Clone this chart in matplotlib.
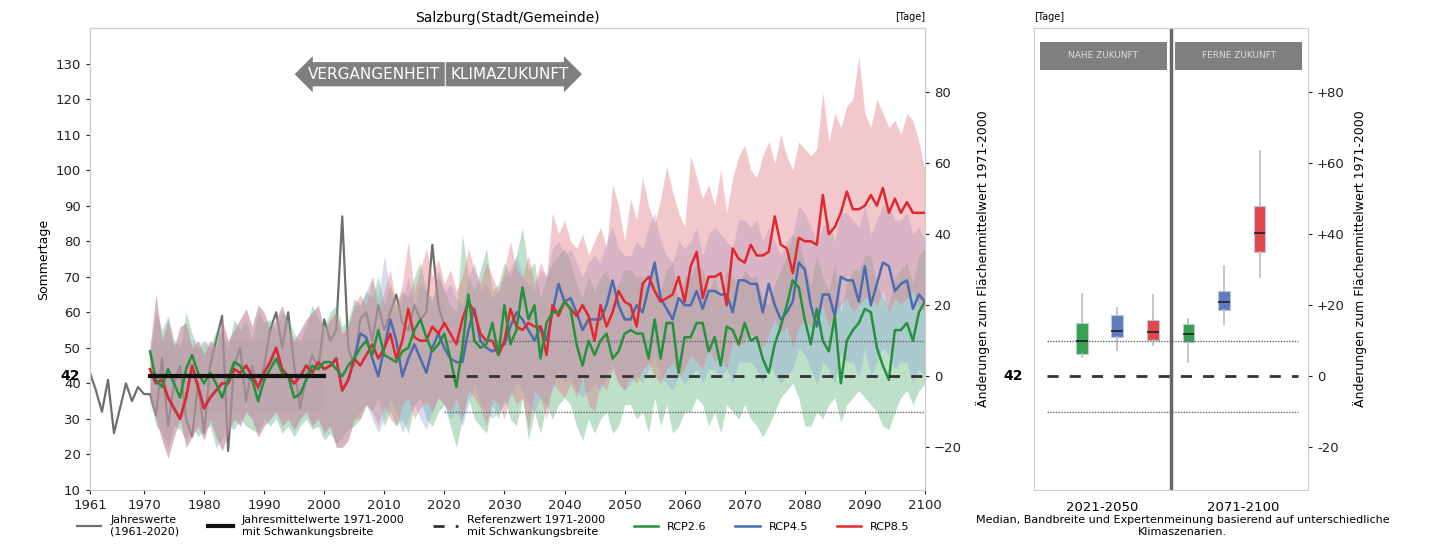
import matplotlib
matplotlib.use("Agg")
import matplotlib.pyplot as plt
import numpy as np

REF = 42

obs_years = list(range(1961, 2021))
obs = [43, 38, 32, 41, 26, 33, 40, 35, 39, 37,
       37, 31, 47, 28, 40, 45, 30, 25, 40, 26,
       45, 52, 59, 21, 45, 50, 35, 45, 38, 45,
       55, 60, 50, 60, 45, 33, 42, 48, 44, 58,
       52, 55, 87, 50, 45, 58, 60, 52, 62, 55,
       60, 65, 57, 55, 62, 58, 60, 79, 62, 56]

years = list(range(1971, 2101))

# historische Laeufe (1971-2005), gleich fuer RCP4.5 und RCP8.5
hist_45_85 = [44, 40, 41, 36, 33, 30, 36, 45, 39, 33,
              36, 38, 40, 40, 44, 43, 45, 42, 39, 43,
              46, 50, 44, 42, 40, 42, 45, 43, 46, 44,
              45, 47, 38, 41, 47]
hist_up_45_85 = [50, 65, 52, 58, 50, 56, 57, 50, 52, 48,
                 52, 50, 58, 52, 55, 58, 61, 56, 62, 60,
                 55, 58, 62, 56, 52, 55, 58, 60, 62, 55,
                 58, 60, 54, 56, 62]
hist_lo_45_85 = [35, 30, 24, 19, 25, 30, 22, 25, 28, 24,
                 30, 25, 21, 26, 30, 28, 32, 30, 25, 28,
                 30, 32, 28, 30, 27, 30, 32, 28, 30, 26,
                 28, 22, 22, 24, 30]

rcp85 = hist_45_85 + [
    45, 48, 51, 47, 50,
    54, 47, 52, 61, 53, 52, 52, 56, 54, 57,
    54, 51, 58, 63, 60, 54, 52, 52, 48, 52,
    61, 56, 55, 57, 56, 56, 48, 62, 59, 63,
    61, 59, 62, 59, 52, 62, 56, 60, 66, 63,
    62, 56, 68, 70, 66, 63, 64, 65, 70, 63,
    73, 77, 64, 70, 70, 71, 62, 78, 75, 74,
    79, 76, 76, 77, 87, 79, 78, 71, 81, 80,
    80, 79, 93, 82, 84, 88, 94, 89, 89, 90,
    93, 90, 95, 88, 92, 88, 91, 88, 88, 88]
rcp85_up = hist_up_45_85 + [
    65, 62, 70, 60, 66,
    72, 62, 68, 80, 66, 72, 78, 70, 75, 68,
    72, 66, 70, 78, 72, 68, 74, 70, 66, 72,
    80, 72, 70, 76, 68, 74, 70, 88, 82, 86,
    80, 78, 82, 76, 80, 84, 78, 96, 90, 80,
    92, 86, 98, 90, 85, 92, 101, 94, 88, 84,
    104, 98, 92, 96, 90, 100, 88, 98, 104, 107,
    100, 98, 104, 108, 102, 110, 104, 100, 108, 106,
    104, 106, 122, 108, 116, 112, 118, 120, 132, 116,
    112, 120, 116, 112, 114, 110, 116, 114, 108, 100]
rcp85_lo = hist_lo_45_85 + [
    30, 34, 32, 28, 34,
    30, 28, 34, 36, 30, 33, 35, 32, 36, 34,
    32, 36, 30, 38, 36, 33, 28, 36, 34, 30,
    38, 34, 36, 27, 38, 36, 30, 40, 38, 36,
    40, 36, 42, 34, 32, 40, 38, 44, 40, 38,
    42, 40, 44, 46, 42, 40, 44, 46, 42, 44,
    48, 46, 44, 50, 46, 48, 44, 52, 50, 52,
    54, 52, 50, 54, 58, 54, 56, 50, 56, 58,
    56, 58, 62, 56, 60, 62, 64, 60, 62, 64,
    64, 62, 66, 60, 64, 62, 64, 66, 62, 60]

rcp45 = hist_45_85 + [
    54, 53, 47, 42, 50,
    58, 52, 42, 47, 51, 47, 43, 50, 54, 50,
    47, 46, 46, 55, 61, 52, 50, 49, 50, 51,
    56, 60, 58, 55, 52, 56, 52, 60, 68, 63,
    64, 60, 55, 58, 58, 58, 62, 69, 62, 58,
    58, 62, 60, 67, 74, 64, 61, 58, 64, 62,
    62, 66, 61, 66, 66, 65, 65, 60, 69, 69,
    68, 68, 60, 68, 62, 58, 60, 63, 74, 72,
    62, 56, 65, 65, 59, 70, 69, 69, 63, 73,
    62, 68, 74, 73, 66, 68, 69, 61, 65, 63]
rcp45_up = hist_up_45_85 + [
    62, 66, 70, 64, 76,
    66, 60, 64, 70, 62, 68, 66, 62, 72, 66,
    68, 64, 62, 70, 74, 66, 68, 64, 66, 70,
    72, 76, 70, 68, 66, 72, 70, 78, 80, 76,
    78, 74, 70, 74, 76, 74, 80, 84, 78, 76,
    76, 80, 78, 84, 88, 80, 76, 74, 80, 78,
    80, 84, 76, 82, 84, 82, 80, 78, 86, 86,
    84, 86, 80, 84, 80, 76, 80, 82, 90, 88,
    84, 80, 84, 86, 80, 88, 88, 86, 84, 90,
    82, 86, 90, 90, 86, 86, 88, 82, 84, 80]
rcp45_lo = hist_lo_45_85 + [
    32, 34, 30, 26, 30,
    36, 32, 26, 30, 34, 30, 27, 32, 36, 34,
    30, 32, 28, 34, 40, 34, 32, 30, 32, 34,
    36, 40, 38, 34, 32, 36, 34, 38, 44, 40,
    42, 38, 36, 38, 40, 38, 42, 46, 40, 38,
    40, 42, 40, 44, 48, 42, 40, 38, 42, 40,
    42, 44, 40, 44, 44, 42, 44, 40, 46, 46,
    46, 44, 40, 46, 42, 40, 42, 44, 50, 48,
    44, 40, 46, 44, 40, 48, 46, 46, 42, 50,
    42, 46, 50, 48, 44, 46, 46, 40, 44, 42]

rcp26 = [49, 41, 39, 44, 40, 36, 44, 48, 43, 40,
         43, 40, 36, 41, 46, 45, 42, 41, 35, 41,
         44, 47, 43, 42, 36, 37, 41, 45, 44, 46,
         46, 44, 42, 45, 47, 50, 52, 48, 55, 48,
         47, 46, 49, 50, 55, 58, 53, 49, 51, 54,
         47, 39, 50, 65, 52, 50, 51, 57, 48, 62,
         51, 55, 67, 58, 62, 47, 57, 60, 60, 63,
         61, 51, 45, 52, 48, 52, 54, 47, 49, 54,
         55, 54, 54, 47, 58, 47, 57, 57, 43, 53,
         53, 57, 57, 49, 53, 45, 56, 55, 51, 57,
         52, 53, 47, 43, 51, 56, 62, 69, 67, 58,
         51, 61, 52, 49, 59, 40, 52, 55, 57, 61,
         60, 50, 45, 41, 55, 55, 57, 52, 60, 63]
rcp26_up = [48, 60, 55, 59, 52, 50, 60, 54, 50, 52,
            50, 55, 54, 50, 58, 55, 58, 52, 60, 57,
            58, 55, 60, 58, 54, 52, 56, 62, 58, 56,
            60, 62, 56, 58, 64, 62, 66, 64, 70, 62,
            68, 62, 66, 64, 70, 74, 66, 64, 70, 66,
            62, 60, 82, 70, 66, 72, 78, 66, 68, 74,
            70, 76, 84, 72, 74, 64, 70, 74, 76, 78,
            74, 68, 64, 70, 66, 70, 72, 66, 68, 72,
            72, 70, 70, 66, 74, 66, 72, 74, 62, 70,
            70, 74, 72, 66, 70, 64, 72, 70, 68, 72,
            70, 70, 64, 62, 68, 72, 76, 82, 80, 74,
            68, 76, 70, 66, 74, 60, 68, 72, 72, 76,
            76, 68, 64, 62, 70, 72, 74, 68, 76, 78]
rcp26_lo = [36, 28, 26, 22, 28, 27, 24, 28, 25, 27,
            28, 22, 24, 28, 27, 30, 28, 27, 26, 30,
            28, 30, 26, 28, 25, 28, 30, 27, 28, 24,
            26, 23, 25, 27, 28, 30, 34, 32, 36, 28,
            32, 28, 30, 26, 34, 36, 30, 28, 32, 34,
            28, 22, 30, 36, 30, 28, 26, 34, 30, 36,
            30, 28, 36, 24, 32, 26, 34, 30, 34, 36,
            34, 28, 24, 30, 26, 30, 32, 26, 28, 34,
            34, 30, 32, 26, 36, 28, 34, 26, 28, 32,
            32, 36, 34, 28, 32, 26, 34, 32, 30, 34,
            30, 28, 25, 28, 32, 36, 38, 40, 36, 28,
            28, 32, 30, 34, 36, 29, 34, 36, 38, 36,
            34, 32, 28, 27, 32, 36, 38, 34, 38, 40]

# Boxplots: Aenderung zum Referenzwert [Tage]
periods = ["2021-2050", "2071-2100"]
box_stats = {
    "RCP2.6": [(5.3, 6.2, 9.9, 15.0, 23.2), (4.0, 9.6, 12.0, 14.6, 16.0)],
    "RCP4.5": [(7.3, 11.1, 12.7, 17.2, 19.2), (14.8, 18.6, 20.9, 24.1, 31.0)],
    "RCP8.5": [(8.7, 10.1, 12.4, 15.7, 23.0), (27.9, 35.0, 40.4, 47.9, 63.4)],
}

c_green = "#24913c"
c_blue = "#4b6cae"
c_red = "#e0282e"
band = {"RCP2.6": "#4fae70", "RCP4.5": "#8ea8d8", "RCP8.5": "#e27d87"}
box_col = {"RCP2.6": "#36a150", "RCP4.5": "#5f7dbd", "RCP8.5": "#e2484b"}

plt.rcParams["font.family"] = "DejaVu Sans"
fig = plt.figure(figsize=(14.3, 5.45), dpi=100)
ax = fig.add_axes([0.0629, 0.1009, 0.5839, 0.8477])

# Schwankungsbreite 1971-2000
ax.fill_between([1971, 2000], REF - 10, REF + 10, color="#d8d8d8", alpha=0.35, lw=0, zorder=1)

ax.plot(obs_years, obs, color="#6e6e6e", lw=1.6, label="Jahreswerte\n(1961-2020)", zorder=2)

ax.fill_between(years, rcp26_lo, rcp26_up, color=band["RCP2.6"], alpha=0.38, lw=0, zorder=3)
ax.fill_between(years, rcp45_lo, rcp45_up, color=band["RCP4.5"], alpha=0.38, lw=0, zorder=3)
ax.fill_between(years, rcp85_lo, rcp85_up, color=band["RCP8.5"], alpha=0.42, lw=0, zorder=3)

ax.plot([1971, 2000], [REF, REF], color="#111111", lw=3, zorder=5,
        label="Jahresmittelwerte 1971-2000\nmit Schwankungsbreite")
ax.plot([2020, 2100], [REF, REF], color="#333333", lw=2, ls=(0, (4, 4)), zorder=5,
        label="Referenzwert 1971-2000\nmit Schwankungsbreite")
for v in (REF - 10, REF + 10):
    ax.plot([2020, 2100], [v, v], color="#666666", lw=1, ls=(0, (1, 1)), zorder=5)

l45, = ax.plot(years, rcp45, color=c_blue, lw=1.8, zorder=4)
l85, = ax.plot(years, rcp85, color=c_red, lw=1.8, zorder=4)
l26, = ax.plot(years, rcp26, color=c_green, lw=1.8, zorder=4)

ax.set_xlim(1961, 2100)
ax.set_ylim(10, 140)
ax.set_xticks([1961] + list(range(1970, 2101, 10)))
ax.set_yticks(range(10, 131, 10))
ax.tick_params(labelsize=9.5, colors="#222222", length=3)
ax.set_ylabel("Sommertage", fontsize=9)
ax.set_title("Salzburg(Stadt/Gemeinde)", fontsize=10, pad=4)
ax.text(1.0, 1.012, "[Tage]", transform=ax.transAxes, ha="right", va="bottom", fontsize=7)
ax.text(-0.012, REF, "42", transform=ax.get_yaxis_transform(), ha="right", va="center",
        fontsize=10, fontweight="bold")
for s in ax.spines.values():
    s.set_color("#cccccc")

ax.text(2019.3, 127, "VERGANGENHEIT", ha="right", va="center", color="white", fontsize=11,
        bbox=dict(boxstyle="larrow,pad=0.3", fc="#7f7f7f", ec="none"))
ax.text(2021.0, 127, "KLIMAZUKUNFT", ha="left", va="center", color="white", fontsize=11,
        bbox=dict(boxstyle="rarrow,pad=0.3", fc="#7f7f7f", ec="none"))

ax2 = ax.twinx()
ax2.set_ylim(10 - REF, 140 - REF)
ax2.set_yticks(range(-20, 81, 20))
ax2.tick_params(labelsize=9.5, colors="#222222", length=3)
ax2.set_ylabel("Änderungen zum Flächenmittelwert 1971-2000", fontsize=9, labelpad=10)
for s in ax2.spines.values():
    s.set_color("#cccccc")

handles, labels = ax.get_legend_handles_labels()
handles += [l26, l45, l85]
labels += ["RCP2.6", "RCP4.5", "RCP8.5"]
fig.legend(handles, labels, loc="center", bbox_to_anchor=(0.345, 0.035), ncol=6,
           frameon=False, fontsize=8, handlelength=2.2, columnspacing=2.6)

# rechter Teil: Boxplots
bx = fig.add_axes([0.7231, 0.1009, 0.1916, 0.8477])
bx.set_xlim(-1.34, 6.36)
bx.set_ylim(10 - REF, 140 - REF)
pos = 0
for i, per in enumerate(periods):
    for name in ["RCP2.6", "RCP4.5", "RCP8.5"]:
        lo, q1, med, q3, hi = box_stats[name][i]
        st = [dict(whislo=lo, q1=q1, med=med, q3=q3, whishi=hi, fliers=[])]
        bx.bxp(st, positions=[pos], widths=0.33, patch_artist=True, showcaps=False,
               boxprops=dict(facecolor=box_col[name], edgecolor="#b8c8e0", lw=0.8),
               medianprops=dict(color="#222222", lw=1.2),
               whiskerprops=dict(color="#bbbbbb", lw=1.2))
        pos += 1

bx.axhline(0, xmin=0.047, xmax=0.963, color="#333333", lw=2, ls=(0, (4, 4)))
for v in (-10, 10):
    bx.axhline(v, xmin=0.047, xmax=0.963, color="#666666", lw=1, ls=(0, (1, 1)))
bx.axvline(2.5, color="#666666", lw=2.5)

for x0, txt in [(0.022, "NAHE ZUKUNFT"), (0.515, "FERNE ZUKUNFT")]:
    bx.add_patch(plt.Rectangle((x0, 0.909), 0.463, 0.061, transform=bx.transAxes,
                               fc="#7f7f7f", ec="none"))
    bx.text(x0 + 0.2315, 0.9395, txt, transform=bx.transAxes, ha="center", va="center",
            color="#dddddd", fontsize=6.5)

bx.set_xticks([0.57, 4.53])
bx.set_xticklabels(periods)
bx.tick_params(axis="x", length=0, labelsize=9.5, pad=8)
bx.yaxis.tick_right()
bx.yaxis.set_label_position("right")
bx.set_yticks(range(-20, 81, 20))
bx.set_yticklabels(["-20", "0", "+20", "+40", "+60", "+80"])
bx.tick_params(axis="y", labelsize=9.5, colors="#222222", length=3)
bx.set_ylabel("Änderungen zum Flächenmittelwert 1971-2000", fontsize=9, labelpad=6)
bx.text(-0.04, 0, "42", transform=bx.get_yaxis_transform(), ha="right", va="center",
        fontsize=10, fontweight="bold")
bx.text(0.0, 1.012, "[Tage]", transform=bx.transAxes, ha="left", va="bottom", fontsize=7)
for s in bx.spines.values():
    s.set_color("#cccccc")

fig.text(0.827, 0.035, "Median, Bandbreite und Expertenmeinung basierend auf unterschiedliche\nKlimaszenarien.",
         ha="center", va="center", fontsize=8)

fig.savefig("out.png", dpi=100)
